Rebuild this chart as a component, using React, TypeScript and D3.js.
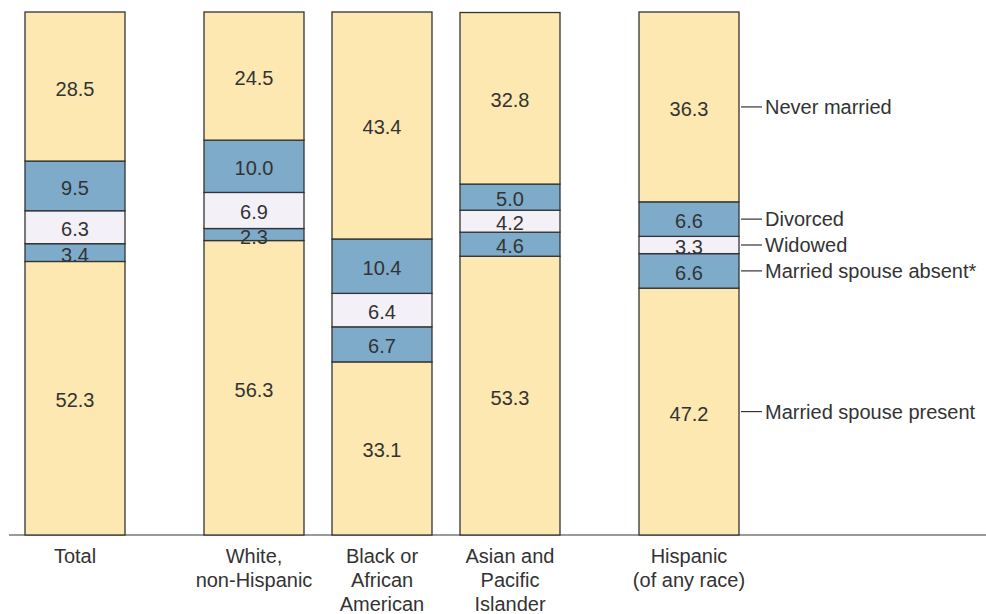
import React, { useRef, useEffect } from 'react';
import * as d3 from 'd3';

// marital status shares (percent), bottom to top
const statuses = [
    'Married spouse present',
    'Married spouse absent*',
    'Widowed',
    'Divorced',
    'Never married',
];

const categories = ['Total', 'White, non-Hispanic', 'Black or African American', 'Asian and Pacific Islander', 'Hispanic (of any race)'];
const categoryLines = [
    ['Total'],
    ['White,', 'non-Hispanic'],
    ['Black or', 'African', 'American'],
    ['Asian and', 'Pacific', 'Islander'],
    ['Hispanic', '(of any race)'],
];
// which cluster each bar belongs to
const categoryGroup = [0, 1, 1, 1, 2];

const marriedPresent = [52.3, 56.3, 33.1, 53.3, 47.2];
const marriedAbsent = [3.4, 2.3, 6.7, 4.6, 6.6];
const widowed = [6.3, 6.9, 6.4, 4.2, 3.3];
const divorced = [9.5, 10.0, 10.4, 5.0, 6.6];
const neverMarried = [28.5, 24.5, 43.4, 32.8, 36.3];

const seriesValues = [marriedPresent, marriedAbsent, widowed, divorced, neverMarried];
const fmt = (v: number) => v.toFixed(1);

const App = () => {
    const svgRef = useRef<SVGSVGElement>(null);

    useEffect(() => {
        drawChart();
    }, []);

    const drawChart = () => {
        const svg = d3.select(svgRef.current);
        svg.selectAll('*').remove();

        const width = 986;
        const height = 614;
        const margin = { top: 12, bottom: 79, left: 25 };
        const plotBottom = height - margin.bottom;

        const table = categories.map((c, i) => {
            const row: any = { category: c };
            statuses.forEach((s, j) => { row[s] = seriesValues[j][i]; });
            return row;
        });

        const stack = d3.stack().keys(statuses);
        const series = stack(table);

        // x positions: bars step 128, extra gap between clusters
        const step = 128;
        const groupGap = 51;
        const barWidth = 100;
        const xPos = (i: number) => margin.left + i * step + categoryGroup[i] * groupGap;

        const y = d3.scaleLinear()
            .domain([0, 100])
            .range([plotBottom, margin.top]);

        const color = d3.scaleOrdinal<string, string>()
            .domain(statuses)
            .range(['#fde8b1', '#7eabc9', '#f3f0f7', '#7eabc9', '#fde8b1']);

        svg.attr('width', width).attr('height', height)
            .style('font-family', '"Liberation Sans", Arial, Helvetica, sans-serif');

        // baseline
        svg.append('line')
            .attr('x1', 9).attr('x2', width)
            .attr('y1', plotBottom).attr('y2', plotBottom)
            .attr('stroke', '#777').attr('stroke-width', 1.5);

        const layers = svg.append('g')
            .selectAll('g')
            .data(series)
            .enter().append('g')
            .attr('fill', d => color(d.key));

        layers.selectAll('rect')
            .data(d => d.map((p, i) => ({ p, i })))
            .enter().append('rect')
            .attr('x', d => xPos(d.i))
            .attr('width', barWidth)
            .attr('y', d => y(d.p[1]))
            .attr('height', d => y(d.p[0]) - y(d.p[1]))
            .attr('stroke', '#333')
            .attr('stroke-width', 1.3);

        // value labels
        layers.selectAll('text')
            .data(d => d.map((p, i) => ({ p, i, v: p[1] - p[0] })))
            .enter().append('text')
            .attr('x', d => xPos(d.i) + barWidth / 2)
            .attr('y', d => (y(d.p[0]) + y(d.p[1])) / 2 + 9)
            .attr('text-anchor', 'middle')
            .attr('fill', '#333')
            .style('font-size', '20px')
            .text(d => fmt(d.v));

        // legend on the right, aligned with last bar's segments
        const last = categories.length - 1;
        const legendX = xPos(last) + barWidth;
        const legend = svg.append('g')
            .selectAll('g')
            .data(series)
            .enter().append('g')
            .attr('transform', d => `translate(${legendX},${(y(d[last][0]) + y(d[last][1])) / 2})`);

        legend.append('line')
            .attr('x1', 2).attr('x2', 23)
            .attr('stroke', '#333').attr('stroke-width', 1.2);

        legend.append('text')
            .attr('x', 26)
            .attr('dy', '0.35em')
            .attr('fill', '#333')
            .style('font-size', '20px')
            .text(d => d.key);

        // category labels
        const cats = svg.append('g')
            .selectAll('text')
            .data(categoryLines)
            .enter().append('text')
            .attr('x', (d, i) => xPos(i) + barWidth / 2)
            .attr('y', plotBottom + 28)
            .attr('text-anchor', 'middle')
            .attr('fill', '#333')
            .style('font-size', '20px');

        cats.selectAll('tspan')
            .data(d => d)
            .enter().append('tspan')
            .attr('x', function () { return (this.parentNode as SVGTextElement).getAttribute('x'); })
            .attr('dy', (d, i) => (i === 0 ? 0 : 24))
            .text(d => d);
    };

    return (
        <svg ref={svgRef} style={{ position: 'absolute', left: 0, top: 0 }}></svg>
    );
};

export default App;
